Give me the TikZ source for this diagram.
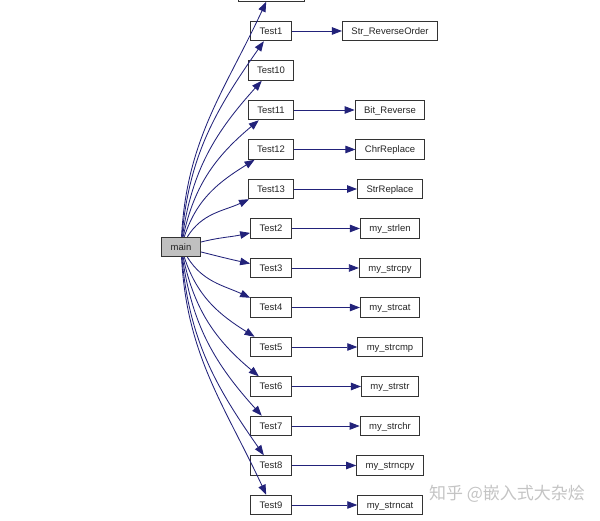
\documentclass[tikz,border=0pt]{standalone}
\usepackage{fontspec}
\setmainfont{Liberation Sans}
\newfontfamily\cjkfont{Noto Sans CJK SC}
\definecolor{edgenavy}{HTML}{22227A}
\definecolor{rootgray}{HTML}{C0C0C0}
\definecolor{markgray}{HTML}{C4C4C4}
\usetikzlibrary{positioning, arrows.meta}

\begin{document}
\begin{tikzpicture}[
    x=1pt, y=1pt,
    >={Triangle[length=10pt, width=7.5pt]},
    func/.style={
      rectangle, draw=black!80, fill=white,
      line width=1pt,
      minimum height=19.5pt, inner xsep=9pt, inner ysep=2pt,
      text height=7pt, text depth=0pt,
      font=\fontsize{9.5}{11}\selectfont, text=black!85,
    },
    root/.style={func, fill=rootgray},
    call/.style={->, edgenavy, line width=0.85pt},
  ]
  \useasboundingbox (0,0) rectangle (600,521);

  \node[root] (main) at (181,274) {main};

  % callers column (first box is cut off by the page edge)
  \node[func, minimum width=66pt] (ttop) at (271,529.5) {};
  \node[func] (t1)  at (271,490)   {Test1};
  \node[func] (t10) at (271,450.5) {Test10};
  \node[func] (t11) at (271,411)   {Test11};
  \node[func] (t12) at (271,371.5) {Test12};
  \node[func] (t13) at (271,332)   {Test13};
  \node[func] (t2)  at (271,292.5) {Test2};
  \node[func] (t3)  at (271,253)   {Test3};
  \node[func] (t4)  at (271,213.5) {Test4};
  \node[func] (t5)  at (271,174)   {Test5};
  \node[func] (t6)  at (271,134.5) {Test6};
  \node[func] (t7)  at (271,95)    {Test7};
  \node[func] (t8)  at (271,55.5)  {Test8};
  \node[func] (t9)  at (271,16)    {Test9};

  % library functions
  \node[func] (rev)    at (390,490)   {Str\_ReverseOrder};
  \node[func] (bitrev) at (390,411)   {Bit\_Reverse};
  \node[func] (chrrep) at (390,371.5) {ChrReplace};
  \node[func] (strrep) at (390,332)   {StrReplace};
  \node[func] (len)    at (390,292.5) {my\_strlen};
  \node[func] (cpy)    at (390,253)   {my\_strcpy};
  \node[func] (cat)    at (390,213.5) {my\_strcat};
  \node[func] (cmp)    at (390,174)   {my\_strcmp};
  \node[func] (sstr)   at (390,134.5) {my\_strstr};
  \node[func] (chr)    at (390,95)    {my\_strchr};
  \node[func] (ncpy)   at (390,55.5)  {my\_strncpy};
  \node[func] (ncat)   at (390,16)    {my\_strncat};

  \draw[call] (main) to[out=87, in=245] (ttop);
  \draw[call] (main) to[out=85, in=235] (t1);
  \draw[call] (main) to[out=82, in=228] (t10);
  \draw[call] (main) to[out=78, in=220] (t11);
  \draw[call] (main) to[out=72, in=212] (t12);
  \draw[call] (main) to[out=58, in=205] (t13);
  \draw[call] (main) to[out=14, in=192] (t2);
  \draw[call] (main) to[out=-14, in=168] (t3);
  \draw[call] (main) to[out=-58, in=155] (t4);
  \draw[call] (main) to[out=-72, in=148] (t5);
  \draw[call] (main) to[out=-78, in=140] (t6);
  \draw[call] (main) to[out=-82, in=132] (t7);
  \draw[call] (main) to[out=-85, in=125] (t8);
  \draw[call] (main) to[out=-87, in=115] (t9);

  \draw[call] (t1) -- (rev);
  \draw[call] (t11) -- (bitrev);
  \draw[call] (t12) -- (chrrep);
  \draw[call] (t13) -- (strrep);
  \draw[call] (t2) -- (len);
  \draw[call] (t3) -- (cpy);
  \draw[call] (t4) -- (cat);
  \draw[call] (t5) -- (cmp);
  \draw[call] (t6) -- (sstr);
  \draw[call] (t7) -- (chr);
  \draw[call] (t8) -- (ncpy);
  \draw[call] (t9) -- (ncat);

  \node[font=\cjkfont\fontsize{17}{20}\selectfont, text=markgray] (mark) at (507,27)
    {知乎 @嵌入式大杂烩};
\end{tikzpicture}
\end{document}
